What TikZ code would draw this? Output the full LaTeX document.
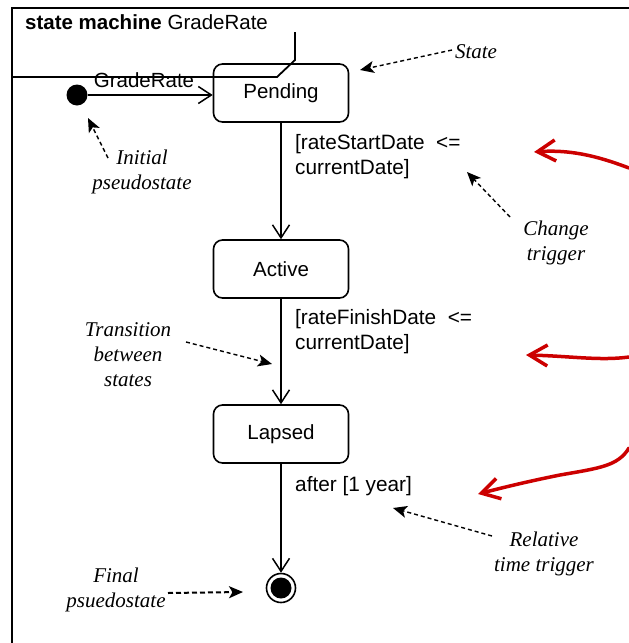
\documentclass[tikz,border=0pt]{standalone}
\usepackage{fontspec}
\setmainfont{Liberation Serif}
\setsansfont{Liberation Sans}
\usetikzlibrary{arrows.meta}
\definecolor{annred}{RGB}{204,0,0}
\tikzset{
  frameline/.style={line width=2.8pt},
  tabline/.style={line width=1.8pt},
  statebox/.style={draw, line width=1.6pt, rounded corners=9pt, minimum width=135pt, minimum height=58pt, inner sep=0pt, font=\sffamily\fontsize{20.5}{24}\selectfont},
  trans/.style={line width=1.5pt, -{Straight Barb[length=13pt,width=17pt,line width=1.5pt]}},
  lbl/.style={font=\sffamily\fontsize{20.8}{25}\selectfont, align=left, inner sep=0pt, anchor=west},
  anntext/.style={font=\rmfamily\itshape\fontsize{21}{25}\selectfont, align=center, inner sep=0pt},
  ann/.style={line width=1.4pt, dash pattern=on 4pt off 3pt, -{Stealth[length=14pt,width=12pt,inset=3.5pt]}},
  redarrow/.style={draw=annred, line width=3.5pt, line cap=round, -{Straight Barb[length=18pt,width=21pt,line width=3.5pt]}},
}
\begin{document}
\begin{tikzpicture}[x=1pt, y=-1pt]
\useasboundingbox (0,0) rectangle (629,643);
% frame
\coordinate (frTR) at (629,8);
\coordinate (frTL) at (12,8);
\coordinate (frBL) at (12,643);
\draw[frameline] (frTR) -- (frTL) -- (frBL);
\coordinate (tabL) at (12,77);
\coordinate (tabA) at (277,77);
\coordinate (tabB) at (295,60);
\coordinate (tabC) at (295,32);
\draw[tabline] (tabL) -- (tabA) -- (tabB) -- (tabC);
\node[anchor=west, inner sep=0pt, font=\sffamily\fontsize{20.5}{24}\selectfont] (hdr) at (25,22) {\textbf{state machine} GradeRate};

% states
\node[statebox] (pend) at (281,93) {Pending};
\node[statebox] (act) at (281,269) {Active};
\node[statebox] (lap) at (281,434) {Lapsed};
\node[circle, fill, minimum size=21pt, inner sep=0pt] (init) at (77,95) {};
\node[circle, draw, line width=1.6pt, minimum size=29pt, inner sep=0pt] (fin) at (281,588) {};
\node[circle, fill, minimum size=21pt, inner sep=0pt] (fincore) at (fin) {};

% transitions
\draw[trans] (init) -- (init -| pend.west);
\draw[trans] (pend.south) -- (act.north);
\draw[trans] (act.south) -- (lap.north);
\draw[trans] (lap.south) -- (fin.north);

\node[font=\sffamily\fontsize{20.5}{24}\selectfont, inner sep=0pt] (glbl) at (144,80) {GradeRate};
\node[lbl] (g1) at (295,157) {[rateStartDate\ \ <=\\currentDate]};
\node[lbl] (g2) at (295,332) {[rateFinishDate\ \ <=\\currentDate]};
\node[lbl] (g3) at (295,486) {after [1 year]};

% annotations
\node[anntext] (stateN) at (476,52) {State};
\coordinate (stateA) at (452,50);
\coordinate (stateB) at (360,70);
\draw[ann] (stateA) -- (stateB);

\node[anntext] (initN) at (142,172) {Initial\\pseudostate};
\coordinate (initA) at (108,158);
\coordinate (initB) at (88,118);
\draw[ann] (initA) -- (initB);

\node[anntext] (chgN) at (556,243) {Change\\trigger};
\coordinate (chgA) at (510,217);
\coordinate (chgB) at (467,172);
\draw[ann] (chgA) -- (chgB);

\node[anntext] (trN) at (128,355) {Transition\\between\\states};
\coordinate (trA) at (186,342);
\coordinate (trB) at (272,364);
\draw[ann] (trA) -- (trB);

\node[anntext] (relN) at (544,554) {Relative\\time trigger};
\coordinate (relA) at (492,536);
\coordinate (relB) at (393,508);
\draw[ann] (relA) -- (relB);

\node[anntext] (finN) at (116,590) {Final\\psuedostate};
\coordinate (finA) at (168,593);
\coordinate (finB) at (243,592);
\draw[ann, line width=2pt, dash pattern=on 5pt off 3pt] (finA) -- (finB);

% red arrows
\coordinate (r1s) at (629,168);
\coordinate (r1e) at (534,152);
\draw[redarrow] (r1s) .. controls (605,159) and (575,149) .. (r1e);
\coordinate (r2s) at (629,357);
\coordinate (r2e) at (526,355);
\draw[redarrow] (r2s) .. controls (600,361) and (570,356) .. (r2e);
\coordinate (r3s) at (629,448);
\coordinate (r3m) at (560,475);
\coordinate (r3e) at (478,494);
\draw[redarrow] (r3s) .. controls (618,466) and (600,468) .. (r3m) .. controls (530,481) and (505,487) .. (r3e);
\end{tikzpicture}
\end{document}
